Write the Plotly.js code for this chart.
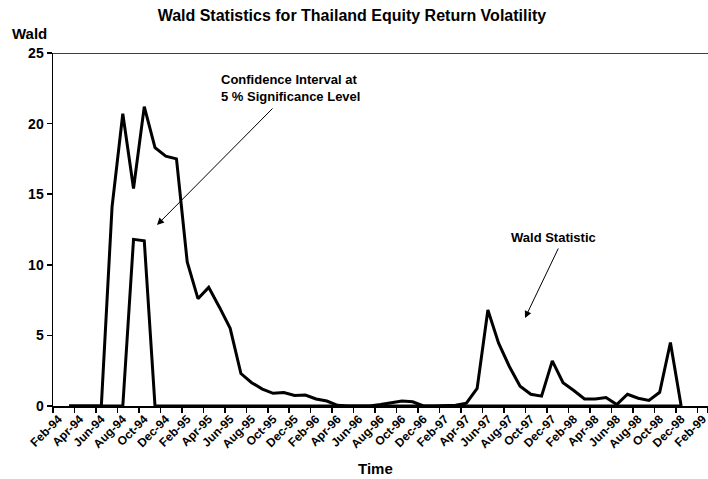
<!DOCTYPE html>
<html>
<head>
<meta charset="utf-8">
<script src="https://cdn.plot.ly/plotly-3.0.1.min.js"></script>
<style>html,body{margin:0;padding:0;background:#fff;}#chart{width:708px;height:479px;}</style>
</head>
<body>
<div id="chart"></div>
<script>
// Monthly categories Feb-94 .. Feb-99
const months = [
 "Feb-94","Mar-94","Apr-94","May-94","Jun-94","Jul-94","Aug-94","Sep-94","Oct-94","Nov-94","Dec-94","Jan-95",
 "Feb-95","Mar-95","Apr-95","May-95","Jun-95","Jul-95","Aug-95","Sep-95","Oct-95","Nov-95","Dec-95","Jan-96",
 "Feb-96","Mar-96","Apr-96","May-96","Jun-96","Jul-96","Aug-96","Sep-96","Oct-96","Nov-96","Dec-96","Jan-97",
 "Feb-97","Mar-97","Apr-97","May-97","Jun-97","Jul-97","Aug-97","Sep-97","Oct-97","Nov-97","Dec-97","Jan-98",
 "Feb-98","Mar-98","Apr-98","May-98","Jun-98","Jul-98","Aug-98","Sep-98","Oct-98","Nov-98","Dec-98","Jan-99",
 "Feb-99"
];
const tickLabels = [
 "Feb-94","Apr-94","Jun-94","Aug-94","Oct-94","Dec-94",
 "Feb-95","Apr-95","Jun-95","Aug-95","Oct-95","Dec-95",
 "Feb-96","Apr-96","Jun-96","Aug-96","Oct-96","Dec-96",
 "Feb-97","Apr-97","Jun-97","Aug-97","Oct-97","Dec-97",
 "Feb-98","Apr-98","Jun-98","Aug-98","Oct-98","Dec-98",
 "Feb-99"
];
// Data months: Mar-94 .. Dec-98
const dataMonths = months.slice(1, 59);
const waldStat = [
 0, 0, 0, 0, 14.1, 20.7, 15.4, 21.2, 18.3, 17.7,
 17.5, 10.2, 7.6, 8.4, 7.0, 5.5, 2.3, 1.65, 1.2, 0.9,
 0.95, 0.75, 0.78, 0.5, 0.35, 0.05, 0, 0, 0, 0.1,
 0.25, 0.35, 0.3, 0, 0, 0, 0.05, 0.2, 1.25, 6.8,
 4.45, 2.8, 1.4, 0.83, 0.7, 3.2, 1.65, 1.1, 0.5, 0.5,
 0.6, 0.1, 0.83, 0.55, 0.4, 0.97, 4.5, 0
];
const confInterval = [
 0, 0, 0, 0, 0, 0, 11.8, 11.7, 0, 0,
 0, 0, 0, 0, 0, 0, 0, 0, 0, 0,
 0, 0, 0, 0, 0, 0, 0, 0, 0, 0,
 0, 0, 0, 0, 0, 0, 0, 0, 0, 0,
 0, 0, 0, 0, 0, 0, 0, 0, 0, 0,
 0, 0, 0, 0, 0, 0, 0, 0
];
const yTicks = [0, 5, 10, 15, 20, 25];

const FONT = "Liberation Sans, Arial, sans-serif";
const traces = [
 {x: dataMonths, y: confInterval, type: "scatter", mode: "lines",
  line: {color: "#000", width: 3}, name: "Confidence Interval", hoverinfo: "skip"},
 {x: dataMonths, y: waldStat, type: "scatter", mode: "lines",
  line: {color: "#000", width: 3}, name: "Wald Statistic", hoverinfo: "skip"}
];

const layout = {
 width: 708, height: 479,
 margin: {l: 53, r: 0, t: 53, b: 73},
 paper_bgcolor: "#fff", plot_bgcolor: "#fff",
 showlegend: false,
 font: {family: FONT, color: "#000"},
 title: {text: "<b>Wald Statistics for Thailand Equity Return Volatility</b>",
   font: {family: FONT, size: 16, color: "#000"},
   x: 0.497, xanchor: "center", y: 1 - 15/479, yanchor: "middle", yref: "container"},
 xaxis: {
   type: "category", categoryorder: "array", categoryarray: months,
   range: [-0.5, 60.5],
   tickmode: "array", tickvals: tickLabels, ticktext: tickLabels.map(t => "<b>" + t + "</b>"),
   tickson: "boundaries",
   ticks: "outside", ticklen: 5, tickwidth: 1.5, tickcolor: "#000",
   tickangle: -45, tickfont: {family: FONT, size: 12, color: "#000"},
   showline: true, linecolor: "#000", linewidth: 1.5,
   showgrid: false, zeroline: false, fixedrange: true
 },
 yaxis: {
   range: [0, 25], tickmode: "array", tickvals: yTicks,
   ticktext: yTicks.map(v => "<b>" + v + "</b>"),
   ticks: "outside", ticklen: 5, tickwidth: 1.5, tickcolor: "#000",
   tickfont: {family: FONT, size: 14, color: "#000"},
   showline: true, linecolor: "#000", linewidth: 1.5,
   showgrid: false, zeroline: false, fixedrange: true
 },
 shapes: [
  {type: "line", xref: "paper", yref: "y", x0: 0, x1: 1, y0: 25, y1: 25,
   line: {color: "#000", width: 1.5}}
 ],
 annotations: [
  {text: "<b>Wald</b>", xref: "paper", yref: "paper", x: (10-53)/655, y: (406-33)/353,
   xanchor: "left", yanchor: "middle", showarrow: false, font: {family: FONT, size: 15, color: "#000"}},
  {text: "<b>Time</b>", xref: "paper", yref: "paper", x: (375-53)/655, y: (406-468)/353,
   xanchor: "center", yanchor: "middle", showarrow: false, font: {family: FONT, size: 15, color: "#000"}},
  {text: "<b>Confidence Interval at</b><br><b>5 % Significance Level</b>", xref: "paper", yref: "paper",
   x: (219-53)/655, y: (406-70)/353, xanchor: "left", yanchor: "top", align: "left",
   showarrow: false, font: {family: FONT, size: 13, color: "#000"}},
  {text: "<b>Wald Statistic</b>", xref: "paper", yref: "paper",
   x: (553-53)/655, y: (406-237)/353, xanchor: "center", yanchor: "middle",
   showarrow: false, font: {family: FONT, size: 13, color: "#000"}},
  {text: "", xref: "paper", yref: "paper", x: (157-53)/655, y: (406-225)/353,
   showarrow: true, ax: 117, ay: -118, axref: "pixel", ayref: "pixel",
   arrowhead: 2, arrowsize: 1.4, arrowwidth: 1, arrowcolor: "#000"},
  {text: "", xref: "paper", yref: "paper", x: (525-53)/655, y: (406-318)/353,
   showarrow: true, ax: 34, ay: -71, axref: "pixel", ayref: "pixel",
   arrowhead: 2, arrowsize: 1.4, arrowwidth: 1, arrowcolor: "#000"}
 ]
};

Plotly.newPlot("chart", traces, layout, {displayModeBar: false, staticPlot: true});
</script>
</body>
</html>
